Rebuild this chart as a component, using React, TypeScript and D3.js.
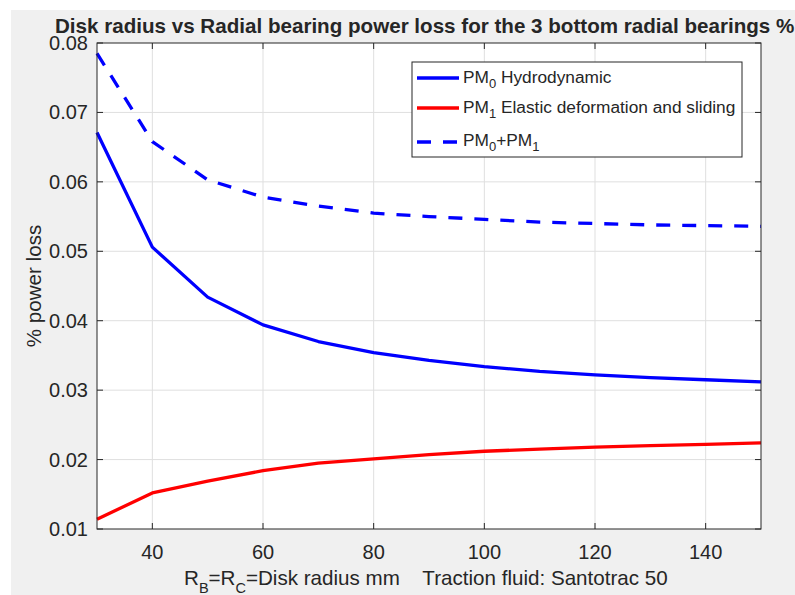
import React from "react";
import * as d3 from "d3";

// Disk radius (mm) at which the bearing losses were evaluated
const radius = [30, 40, 50, 60, 70, 80, 90, 100, 110, 120, 130, 140, 150];
// PM0: hydrodynamic loss (%)
const pm0 = [0.0671, 0.0506, 0.0434, 0.0394, 0.037, 0.0354, 0.0343, 0.0334, 0.0327, 0.0322, 0.0318, 0.0315, 0.0312];
// PM1: elastic deformation and sliding loss (%)
const pm1 = [0.0114, 0.0152, 0.0169, 0.0184, 0.0195, 0.0201, 0.0207, 0.0212, 0.0215, 0.0218, 0.022, 0.0222, 0.0224];
// PM0 + PM1 total loss (%)
const pmTotal = [0.0785, 0.0658, 0.0603, 0.0578, 0.0565, 0.0555, 0.055, 0.0546, 0.0542, 0.054, 0.0538, 0.0537, 0.0536];

const xTicks = [40, 60, 80, 100, 120, 140];
const yTicks = [0.01, 0.02, 0.03, 0.04, 0.05, 0.06, 0.07, 0.08];

const W = 795;
const H = 595;
const plot = { left: 97, right: 761, top: 43, bottom: 529 };
const FONT = "'Liberation Sans', Arial, Helvetica, sans-serif";
const INK = "#262626";

function Txt(props: {
  x: number;
  y: number;
  size: number;
  anchor?: string;
  weight?: string | number;
  rotate?: number;
  fill?: string;
  children: React.ReactNode;
}) {
  const { x, y, size, anchor = "start", weight = "normal", rotate = 0, fill = INK, children } = props;
  return (
    <text
      transform={`translate(${x},${y}) rotate(${rotate})`}
      fontSize={size}
      fontFamily={FONT}
      fontWeight={weight}
      textAnchor={anchor}
      fill={fill}
      style={{ whiteSpace: "pre" }}
    >
      {children}
    </text>
  );
}

export default function App() {
  const x = d3.scaleLinear().domain([30, 150]).range([plot.left, plot.right]);
  const y = d3.scaleLinear().domain([0.01, 0.08]).range([plot.bottom, plot.top]);

  const line = d3
    .line<number>()
    .x((_, i) => x(radius[i]))
    .y((v) => y(v));

  const tickLen = 6;
  const lineW = 3.3;
  const dash = "14,12";

  const tickSize = 20;
  const labelSize = 20.6;
  const legSize = 17.3;
  const legSub = 13;

  const legend = { left: 412, right: 742, top: 62, bottom: 157 };
  const legRows = [78, 108, 142];
  const sampleX0 = 417;
  const sampleX1 = 459;
  const textX = 463;

  return (
    <svg
      width={W}
      height={H}
      style={{ position: "absolute", left: 0, top: 0, display: "block" }}
    >
      <rect x={0} y={0} width={W} height={H} fill="#ffffff" />
      <rect x={11} y={10} width={W - 11} height={H - 10} fill="#f0f0f0" />

      {/* plot area */}
      <rect
        x={plot.left}
        y={plot.top}
        width={plot.right - plot.left}
        height={plot.bottom - plot.top}
        fill="#ffffff"
      />

      {/* grid */}
      <g stroke="#dfdfdf" strokeWidth={1}>
        {xTicks.map((t) => (
          <line key={`gx${t}`} x1={x(t)} x2={x(t)} y1={plot.top} y2={plot.bottom} />
        ))}
        {yTicks
          .filter((t) => t > 0.01 && t < 0.08)
          .map((t) => (
            <line key={`gy${t}`} x1={plot.left} x2={plot.right} y1={y(t)} y2={y(t)} />
          ))}
      </g>

      {/* ticks on all four sides */}
      <g stroke={INK} strokeWidth={1}>
        {xTicks.map((t) => (
          <g key={`tx${t}`}>
            <line x1={x(t)} x2={x(t)} y1={plot.bottom} y2={plot.bottom - tickLen} />
            <line x1={x(t)} x2={x(t)} y1={plot.top} y2={plot.top + tickLen} />
          </g>
        ))}
        {yTicks.map((t) => (
          <g key={`ty${t}`}>
            <line x1={plot.left} x2={plot.left + tickLen} y1={y(t)} y2={y(t)} />
            <line x1={plot.right} x2={plot.right - tickLen} y1={y(t)} y2={y(t)} />
          </g>
        ))}
      </g>

      {/* data */}
      <g fill="none" strokeLinejoin="round">
        <path d={line(pm0) ?? ""} stroke="#0000ff" strokeWidth={lineW} />
        <path d={line(pm1) ?? ""} stroke="#ff0000" strokeWidth={lineW} />
        <path d={line(pmTotal) ?? ""} stroke="#0000ff" strokeWidth={lineW} strokeDasharray={dash} />
      </g>

      {/* axes box */}
      <rect
        x={plot.left}
        y={plot.top}
        width={plot.right - plot.left}
        height={plot.bottom - plot.top}
        fill="none"
        stroke={INK}
        strokeWidth={1}
      />

      {/* tick labels */}
      {xTicks.map((t) => (
        <Txt key={`lx${t}`} x={x(t)} y={559} size={tickSize} anchor="middle">
          {String(t)}
        </Txt>
      ))}
      {yTicks.map((t) => (
        <Txt key={`ly${t}`} x={88} y={y(t) + 7} size={tickSize} anchor="end">
          {d3.format(".2f")(t)}
        </Txt>
      ))}

      {/* axis titles */}
      <Txt x={184} y={585} size={labelSize}>
        R<tspan fontSize={14.5} dy={8}>B</tspan>
        <tspan dy={-8}>=R</tspan>
        <tspan fontSize={14.5} dy={8}>C</tspan>
        <tspan dy={-8}>{"=Disk radius mm    Traction fluid: Santotrac 50"}</tspan>
      </Txt>
      <Txt x={41} y={(plot.top + plot.bottom) / 2} size={labelSize} anchor="middle" rotate={-90}>
        % power loss
      </Txt>

      {/* title */}
      <Txt x={55} y={33} size={labelSize} weight="bold">
        Disk radius vs Radial bearing power loss for the 3 bottom radial bearings %
      </Txt>

      {/* legend */}
      <rect
        x={legend.left}
        y={legend.top}
        width={legend.right - legend.left}
        height={legend.bottom - legend.top}
        fill="#ffffff"
        stroke={INK}
        strokeWidth={1}
      />
      <line x1={sampleX0} x2={sampleX1} y1={legRows[0]} y2={legRows[0]} stroke="#0000ff" strokeWidth={lineW} />
      <line x1={sampleX0} x2={sampleX1} y1={legRows[1]} y2={legRows[1]} stroke="#ff0000" strokeWidth={lineW} />
      <line
        x1={sampleX0}
        x2={sampleX1}
        y1={legRows[2]}
        y2={legRows[2]}
        stroke="#0000ff"
        strokeWidth={lineW}
        strokeDasharray={dash}
      />
      <Txt x={textX} y={legRows[0] + 5} size={legSize}>
        PM<tspan fontSize={legSub} dy={5}>0</tspan>
        <tspan dy={-5}>{" Hydrodynamic"}</tspan>
      </Txt>
      <Txt x={textX} y={legRows[1] + 5} size={legSize}>
        PM<tspan fontSize={legSub} dy={5}>1</tspan>
        <tspan dy={-5}>{" Elastic deformation and sliding"}</tspan>
      </Txt>
      <Txt x={textX} y={legRows[2] + 4} size={legSize}>
        PM<tspan fontSize={legSub} dy={5}>0</tspan>
        <tspan dy={-5}>+PM</tspan>
        <tspan fontSize={legSub} dy={5}>1</tspan>
      </Txt>
    </svg>
  );
}
